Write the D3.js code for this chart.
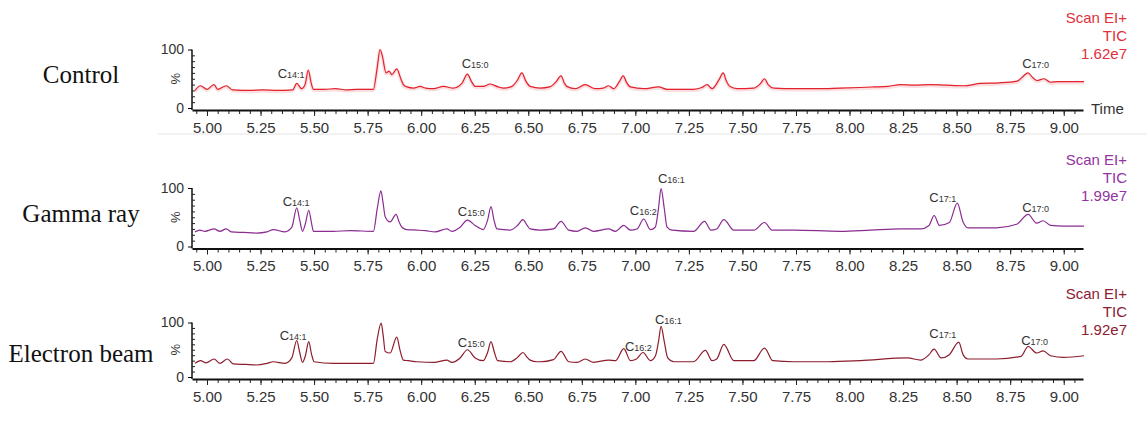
<!DOCTYPE html>
<html><head><meta charset="utf-8">
<script src="https://cdn.jsdelivr.net/npm/d3@7"></script>
<style>
html,body{margin:0;padding:0;background:#fff;}
svg{display:block;}
</style></head>
<body>
<svg id="chart" width="1147" height="427"></svg>
<script>
// ---------------- DATA ----------------
const sampleNames = ["Control", "Gamma ray", "Electron beam"];
const scanLabels = ["Scan EI+", "TIC"];
const ticValues = ["1.62e7", "1.99e7", "1.92e7"];
const xTickValues = [5.00, 5.25, 5.50, 5.75, 6.00, 6.25, 6.50, 6.75, 7.00, 7.25, 7.50, 7.75, 8.00, 8.25, 8.50, 8.75, 9.00];
const yTickValues = [0, 100];

// [time (min), relative intensity (%)]
const controlSeries = [[4.944,30],[4.97,38],[5.00,32],[5.033,40],[5.05,32],[5.09,38],[5.12,31],[5.20,30],[5.26,31],[5.33,30],[5.40,31],[5.419,42],[5.442,33],[5.458,40],[5.473,65],[5.485,45],[5.497,32],[5.55,32],[5.60,33],[5.65,31],[5.70,32],[5.777,32],[5.795,70],[5.808,100],[5.818,90],[5.836,60],[5.85,63],[5.863,57],[5.886,67],[5.905,50],[5.917,40],[5.933,36],[5.965,34],[5.995,37],[6.02,34],[6.058,33],[6.104,37],[6.15,34],[6.19,42],[6.216,58],[6.235,45],[6.252,37],[6.29,37],[6.322,41],[6.36,36],[6.385,34],[6.424,37],[6.45,48],[6.47,60],[6.49,45],[6.509,37],[6.556,34],[6.6,36],[6.63,45],[6.653,55],[6.668,43],[6.68,37],[6.72,33],[6.766,40],[6.813,33],[6.85,34],[6.875,38],[6.899,33],[6.925,45],[6.943,55],[6.96,43],[6.977,36],[7.039,33],[7.109,36],[7.148,32],[7.272,32],[7.31,35],[7.335,40],[7.358,33],[7.39,48],[7.41,60],[7.425,46],[7.441,37],[7.475,33],[7.553,34],[7.585,42],[7.603,50],[7.62,40],[7.647,34],[7.74,33],[7.85,33],[7.958,34],[8.05,35],[8.114,36],[8.18,37],[8.238,40],[8.30,39],[8.378,40],[8.45,39],[8.534,38],[8.612,42],[8.70,43],[8.783,46],[8.81,54],[8.833,60],[8.855,52],[8.875,47],[8.908,50],[8.939,44],[8.97,45],[9.095,45]];

const gammaSeries = [[4.944,25],[4.967,28],[4.99,26],[5.033,30],[5.06,26],[5.09,30],[5.115,25],[5.17,24],[5.232,23],[5.28,25],[5.31,29],[5.364,25],[5.396,33],[5.419,66],[5.433,45],[5.446,26],[5.46,40],[5.475,62],[5.488,40],[5.497,26],[5.59,26],[5.668,27],[5.777,26],[5.795,65],[5.812,95],[5.822,75],[5.832,51],[5.855,42],[5.883,55],[5.897,42],[5.91,33],[5.933,29],[5.98,28],[6.02,27],[6.065,25],[6.12,30],[6.143,26],[6.182,33],[6.216,45],[6.252,36],[6.29,29],[6.31,45],[6.326,68],[6.34,45],[6.354,30],[6.416,28],[6.45,36],[6.475,46],[6.495,36],[6.509,30],[6.556,28],[6.618,30],[6.653,43],[6.689,28],[6.728,26],[6.766,32],[6.805,26],[6.875,30],[6.907,26],[6.946,36],[6.977,28],[7.008,30],[7.039,47],[7.07,29],[7.093,33],[7.108,65],[7.12,99],[7.135,65],[7.148,33],[7.171,28],[7.272,26],[7.323,43],[7.353,28],[7.38,30],[7.413,46],[7.46,28],[7.553,28],[7.603,41],[7.639,28],[7.74,28],[7.958,26],[8.10,28],[8.238,30],[8.332,30],[8.371,36],[8.395,53],[8.42,36],[8.466,41],[8.503,74],[8.53,42],[8.553,32],[8.686,32],[8.78,38],[8.834,55],[8.873,40],[8.904,44],[8.939,36],[9.00,35],[9.095,35]];

const electronSeries = [[4.944,25],[4.97,30],[4.995,26],[5.033,33],[5.06,25],[5.095,33],[5.123,24],[5.18,23],[5.232,22],[5.28,25],[5.31,28],[5.364,25],[5.396,35],[5.419,67],[5.433,45],[5.446,27],[5.46,40],[5.475,65],[5.488,42],[5.5,28],[5.59,25],[5.70,25],[5.777,25],[5.795,70],[5.813,99],[5.823,75],[5.832,47],[5.855,44],[5.886,73],[5.902,48],[5.917,31],[5.94,30],[5.98,28],[6.065,27],[6.12,31],[6.143,27],[6.182,35],[6.216,50],[6.252,35],[6.29,30],[6.31,45],[6.326,65],[6.342,45],[6.357,30],[6.416,28],[6.45,36],[6.475,45],[6.495,36],[6.509,31],[6.54,28],[6.556,28],[6.618,32],[6.653,47],[6.689,28],[6.728,27],[6.766,33],[6.805,27],[6.875,31],[6.907,30],[6.946,52],[6.977,30],[7.005,33],[7.036,45],[7.07,30],[7.093,38],[7.108,65],[7.12,93],[7.135,65],[7.151,35],[7.18,28],[7.272,28],[7.327,49],[7.358,30],[7.38,33],[7.413,60],[7.46,30],[7.553,30],[7.603,53],[7.642,30],[7.74,28],[7.90,28],[8.05,30],[8.27,35],[8.332,31],[8.371,41],[8.395,51],[8.427,35],[8.466,41],[8.51,64],[8.53,41],[8.553,33],[8.686,33],[8.8,38],[8.834,56],[8.873,44],[8.904,48],[8.939,39],[9.0,36],[9.095,39]];

// peak labels: [subscript, time, label height (%)]
const controlPeaks = [["14:1",5.393,60],["15:0",6.252,77],["17:0",8.869,77]];
const gammaPeaks = [["14:1",5.416,78],["15:0",6.234,61],["16:2",7.037,62],["16:1",7.168,117],["17:1",8.435,85],["17:0",8.869,67]];
const electronPeaks = [["14:1",5.402,77],["15:0",6.234,65],["16:2",7.014,56],["16:1",7.154,106],["17:1",8.435,81],["17:0",8.864,68]];

// ---------------- LAYOUT ----------------
const panels = [
  {name: sampleNames[0], tic: ticValues[0], series: controlSeries, peaks: controlPeaks,
   color: "#e2232d", labelColor: "#e0303a", y0: 108, y100: 49.5, nameY: 83, infoY: 23, time: true, sep: true, halo: true},
  {name: sampleNames[1], tic: ticValues[1], series: gammaSeries, peaks: gammaPeaks,
   color: "#8a2c90", labelColor: "#9434a0", y0: 246.5, y100: 188, nameY: 222, infoY: 165},
  {name: sampleNames[2], tic: ticValues[2], series: electronSeries, peaks: electronPeaks,
   color: "#8c1d2d", labelColor: "#8b2030", y0: 377, y100: 322.5, nameY: 362, infoY: 299}
];

const svg = d3.select("#chart");
const x = d3.scaleLinear().domain([4.93, 9.09]).range([192, 1083]);
const minorTicks = d3.range(4.95, 9.09, 0.05).map(v => +v.toFixed(2));

panels.forEach(p => {
  const g = svg.append("g");
  const y = d3.scaleLinear().domain([0, 100]).range([p.y0, p.y100]);
  const axisY = p.y0 + 2;

  // sample name
  g.append("text").attr("x", 81).attr("y", p.nameY)
    .attr("text-anchor", "middle")
    .attr("font-family", "'Liberation Serif', 'DejaVu Serif', serif")
    .attr("font-size", 25).attr("fill", "#111")
    .text(p.name);

  // minor x ticks
  g.append("g").attr("transform", `translate(0,${axisY})`)
    .call(d3.axisBottom(x).tickValues(minorTicks).tickSize(4).tickFormat(""))
    .call(a => a.select(".domain").remove())
    .selectAll("line").attr("stroke", "#222");

  // major x axis
  const xa = g.append("g").attr("transform", `translate(0,${axisY})`)
    .call(d3.axisBottom(x).tickValues(xTickValues).tickSize(6).tickSizeOuter(0).tickFormat(d3.format(".2f")));
  xa.select(".domain").attr("stroke", "#111").attr("stroke-width", 2);
  xa.selectAll(".tick line").attr("stroke", "#222");
  xa.selectAll(".tick text").attr("font-family", "'Liberation Sans', Arial, sans-serif")
    .attr("font-size", 15).attr("fill", "#333").attr("dy", "0.9em");

  // y axis
  const ya = g.append("g").attr("transform", `translate(192,0)`)
    .call(d3.axisLeft(y).tickValues(yTickValues).tickSize(4).tickSizeOuter(0));
  ya.select(".domain").attr("d", `M0,${y(100)}V${axisY}`).attr("stroke", "#111").attr("stroke-width", 1.5);
  ya.selectAll(".tick text").attr("font-family", "'Liberation Sans', Arial, sans-serif")
    .attr("font-size", 14).attr("fill", "#333").attr("dx", "-1");
  g.append("g").attr("transform", `translate(192,0)`)
    .call(d3.axisRight(y).tickValues(d3.range(10, 100, 10)).tickSize(3).tickFormat(""))
    .call(a => a.select(".domain").remove())
    .selectAll("line").attr("stroke", "#222");
  g.append("text").attr("transform", `translate(180,${y(50)}) rotate(-90)`)
    .attr("text-anchor", "middle")
    .attr("font-family", "'Liberation Sans', Arial, sans-serif")
    .attr("font-size", 13).attr("fill", "#333").text("%");

  // trace
  const line = d3.line().x(d => x(d[0])).y(d => y(d[1])).curve(d3.curveMonotoneX);
  if (p.halo) {
    g.append("path").datum(p.series).attr("d", line)
      .attr("fill", "none").attr("stroke", p.color).attr("stroke-opacity", 0.15)
      .attr("stroke-width", 3.5).attr("transform", "translate(0,1)");
  }
  g.append("path").datum(p.series).attr("d", line)
    .attr("fill", "none").attr("stroke", p.color).attr("stroke-width", 1.2)
    .attr("stroke-linejoin", "round");

  // peak labels
  p.peaks.forEach(pk => {
    const t = g.append("text").attr("x", x(pk[1])).attr("y", y(pk[2]) + 5)
      .attr("text-anchor", "middle")
      .attr("font-family", "'Liberation Sans', Arial, sans-serif").attr("fill", "#333");
    t.append("tspan").attr("font-size", 13).text("C");
    t.append("tspan").attr("font-size", 9).text(pk[0]);
  });

  // scan info
  const info = [scanLabels[0], scanLabels[1], p.tic];
  info.forEach((s, i) => {
    g.append("text").attr("x", 1127).attr("y", p.infoY + i * 18)
      .attr("text-anchor", "end")
      .attr("font-family", "'Liberation Sans', Arial, sans-serif")
      .attr("font-size", 15).attr("fill", p.labelColor).text(s);
  });

  if (p.time) {
    g.append("text").attr("x", 1091).attr("y", axisY + 4)
      .attr("font-family", "'Liberation Sans', Arial, sans-serif")
      .attr("font-size", 15).attr("fill", "#333").text("Time");
  }
  if (p.sep) {
    g.append("line").attr("x1", 158).attr("x2", 1147).attr("y1", 134).attr("y2", 134)
      .attr("stroke", "#e4e4e4").attr("stroke-width", 1);
  }
});
</script>
</body></html>
